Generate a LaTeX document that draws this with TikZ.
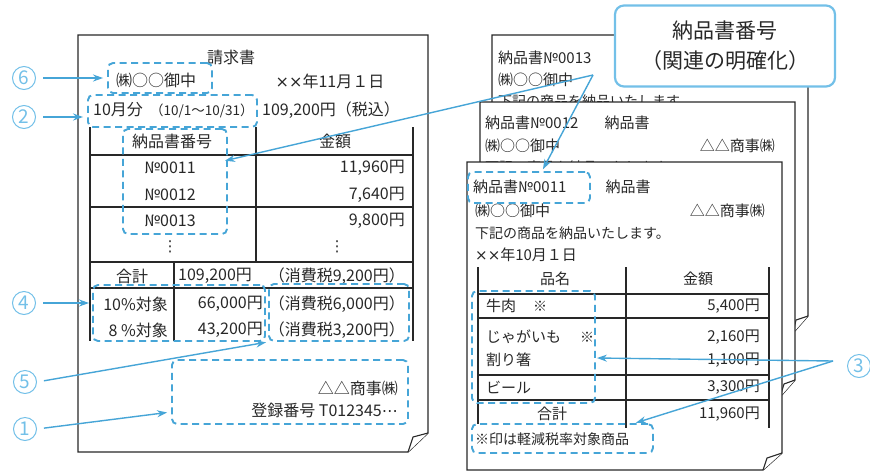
\documentclass[tikz,border=0pt]{standalone}
\usepackage{fontspec}
\setmainfont{Noto Sans CJK JP}
\newfontfamily\dejavu{DejaVu Sans}
\usetikzlibrary{arrows.meta,calc,fit}
\definecolor{ink}{RGB}{40,40,40}
\definecolor{dblue}{RGB}{70,165,215}
\definecolor{cblue}{RGB}{115,192,232}
\newcommand{\xx}{{\dejavu ××}}
\begin{document}
\begin{tikzpicture}[x=1pt,y=-1pt,
  every node/.style={inner sep=0pt,text=ink},
  lf/.style={font=\fontsize{16}{16}\selectfont},
  rf/.style={font=\fontsize{15}{15}\selectfont},
  sf/.style={font=\fontsize{14}{14}\selectfont},
  vdots/.style={font=\dejavu\fontsize{15}{15}\selectfont},
  page/.style={draw=ink,line width=1.3pt,fill=white,line join=miter},
  flap/.style={draw=ink,line width=1.1pt,fill=white,line join=round},
  tline/.style={draw=ink,line width=1.1pt},
  dbox/.style={draw=dblue,line width=1.9pt,dash pattern=on 7pt off 4.5pt,rounded corners=5pt,inner sep=0pt},
  arr/.style={draw=dblue,line width=1.4pt,-{Stealth[length=10pt,width=7pt]}},
  num/.style={circle,draw=cblue,line width=1pt,text=cblue,minimum size=23pt,inner sep=0pt,font=\fontsize{19}{19}\selectfont},
  callout/.style={draw=cblue,line width=2.2pt,rounded corners=9pt,fill=white,align=center,font=\fontsize{21}{30}\selectfont}
]
\useasboundingbox (0,0) rectangle (870,472);

% ---------------- left document (invoice) ----------------
\draw[page] (78,35) -- (428,35) -- (428,433) -- (408,452) -- (78,452) -- cycle;
\draw[flap] (428,433) -- (413,437) -- (408,452);

\draw[tline] (90,127) -- (90,341);
\draw[tline] (413,127) -- (413,341);
\draw[tline] (256,127) -- (256,262);
\draw[tline] (174,262) -- (174,341);
\draw[tline] (90,155) -- (413,155);
\draw[tline] (90,207) -- (413,207);
\draw[tline] (90,262) -- (413,262);
\draw[tline] (90,288) -- (413,288);

\node[lf] (tTitle) at (231,57) {請求書};
\node[lf] (tTo) at (156,80) {㈱○○御中};
\node[lf] (tDate) at (330,81) {\xx 年11月１日};
\node[lf,anchor=west] (tMonth) at (93,110) {10月分};
\node[font=\fontsize{13.5}{14}\selectfont,anchor=west] (tPeriod) at (150,111) {（10/1～10/31）};
\node[lf,anchor=west] (tTotalTop) at (262,110) {109,200円（税込）};
\node[lf] (hNo) at (172,141) {納品書番号};
\node[lf] (hAmt) at (335,141) {金額};
\node[lf] (r1) at (170,168) {№0011};
\node[lf] (r2) at (170,195) {№0012};
\node[lf] (r3) at (170,221) {№0013};
\node[vdots] (r4) at (170,247) {⋮};
\node[lf,anchor=east] (v1) at (405,168) {11,960円};
\node[lf,anchor=east] (v2) at (405,195) {7,640円};
\node[lf,anchor=east] (v3) at (405,221) {9,800円};
\node[vdots] (v4) at (337,247) {⋮};
\node[lf] (sum) at (132,276) {合計};
\node[lf,anchor=west] (sumv) at (178,276) {109,200円};
\node[lf,anchor=east] (sumt) at (405,276) {（消費税9,200円）};
\node[lf,anchor=east] (p10) at (168,304) {10\%対象};
\node[lf,anchor=east] (p8) at (168,330) {8 \%対象};
\node[lf,anchor=east] (a10) at (263,304) {66,000円};
\node[lf,anchor=east] (a8) at (263,330) {43,200円};
\node[lf,anchor=east] (t10) at (405,304) {（消費税6,000円）};
\node[lf,anchor=east] (t8) at (405,330) {（消費税3,200円）};
\node[lf,anchor=east] (seller) at (398,388) {△△商事㈱};
\node[lf,anchor=east] (reg) at (398,410) {登録番号 T012345{\dejavu ⋯}};

\node[dbox,fit={(108,63) (212,93)}] (b6) {};
\node[dbox,fit={(88,95) (257,127)}] (b2) {};
\node[dbox,fit={(123,129) (227,234)}] (bnum) {};
\node[dbox,fit={(93,285) (265,341)}] (b4) {};
\node[dbox,fit={(269,284) (409,341)}] (b5) {};
\node[dbox,fit={(172,360) (408,424)}] (b1) {};

\node[num] (n6) at (24,78) {6};
\node[num] (n2) at (24,117) {2};
\node[num] (n4) at (24,303) {4};
\node[num] (n5) at (25,382) {5};
\node[num] (n1) at (25,429) {1};

% ---------------- right documents (delivery notes) ----------------
% back page
\draw[page] (492,35) -- (808,35) -- (808,316) -- (793,333) -- (492,333) -- cycle;
\draw[flap] (808,316) -- (796,320) -- (793,333);
\node[rf,anchor=west] (c13a) at (498,58) {納品書№0013};
\node[rf,anchor=west] (c13b) at (498,80) {㈱○○御中};
\node[sf,anchor=west] (c13c) at (498,101) {下記の商品を納品いたします。};

% middle page
\draw[page] (480,102) -- (795,102) -- (795,380) -- (780,397) -- (480,397) -- cycle;
\draw[flap] (795,380) -- (784,384) -- (780,397);
\node[rf,anchor=west] (c12a) at (485,123) {納品書№0012};
\node[rf] (c12b) at (627,123) {納品書};
\node[rf,anchor=west] (c12c) at (485,146) {㈱○○御中};
\node[rf,anchor=east] (c12d) at (775,146) {△△商事㈱};
\node[sf,anchor=west] (c12e) at (485,167) {下記の商品を納品いたします。};

% front page
\draw[page] (467,162) -- (782,162) -- (782,453) -- (763,470) -- (467,470) -- cycle;
\draw[flap] (782,453) -- (767,458) -- (763,470);
\node[rf,anchor=west] (c11a) at (473,187) {納品書№0011};
\node[rf] (c11b) at (628,187) {納品書};
\node[rf,anchor=west] (c11c) at (475,211) {㈱○○御中};
\node[rf,anchor=east] (c11d) at (765,211) {△△商事㈱};
\node[sf,anchor=west] (c11e) at (475,233) {下記の商品を納品いたします。};
\node[rf,anchor=west] (c11f) at (475,255) {\xx 年10月１日};

\draw[tline] (478,267) -- (478,424);
\draw[tline] (626,267) -- (626,428);
\draw[tline] (769,267) -- (769,428);
\draw[tline] (478,294) -- (769,294);
\draw[tline] (478,318) -- (769,318);
\draw[tline] (478,375) -- (769,375);
\draw[tline] (478,400) -- (769,400);

\node[rf] (hName) at (555,279) {品名};
\node[rf] (hAmt2) at (698,279) {金額};
\node[rf,anchor=west] (i1) at (486,306) {牛肉};
\node[sf] (i1m) at (540,306) {※};
\node[rf,anchor=west] (i2) at (486,337) {じゃがいも};
\node[sf] (i2m) at (587,337) {※};
\node[rf,anchor=west] (i3) at (486,360) {割り箸};
\node[rf,anchor=west] (i4) at (486,387) {ビール};
\node[rf] (isum) at (552,414) {合計};
\node[rf,anchor=east] (w1) at (760,306) {5,400円};
\node[rf,anchor=east] (w2) at (760,337) {2,160円};
\node[rf,anchor=east] (w3) at (760,360) {1,100円};
\node[rf,anchor=east] (w4) at (760,387) {3,300円};
\node[rf,anchor=east] (w5) at (760,414) {11,960円};
\node[sf,anchor=west] (note) at (475,439) {※印は軽減税率対象商品};

\node[dbox,fit={(468,172) (590,203)}] (bno11) {};
\node[dbox,fit={(472,291) (595,403)}] (bitems) {};
\node[dbox,fit={(472,424) (653,453)}] (bnote) {};

% callout
\node[callout,minimum width=220pt,minimum height=81pt] (call) at (725,46) {納品書番号\\（関連の明確化）};
\coordinate (callfrom) at (593,75);

\node[num] (n3) at (859,366) {3};
\coordinate (c3from) at (833,361);

% ---------------- connectors ----------------
\draw[arr,shorten <=7pt,shorten >=4pt] (n6.east) -- (b6.west);
\draw[arr,shorten <=7pt,shorten >=4pt] (n2.east) -- (b2.west |- n2.east);
\draw[arr,shorten <=7pt,shorten >=3pt] (n4.east) -- (b4.west |- n4.east);
\draw[arr,shorten <=7pt,shorten >=2pt] (n5.east) -- (b5.south west);
\draw[arr,shorten <=7pt,shorten >=4pt] (n1.east) -- (b1.west |- 0,412);
\draw[arr,shorten >=-3pt] (callfrom) -- (bnum.east |- 0,160);
\draw[arr,shorten >=2pt] (callfrom) -- (bno11.north -| 542,0);
\draw[arr,shorten >=1pt] (c3from) -- (bitems.east |- 0,358);
\draw[arr,shorten >=1pt] (c3from) -- (bnote.north -| 635,0);
\end{tikzpicture}
\end{document}
